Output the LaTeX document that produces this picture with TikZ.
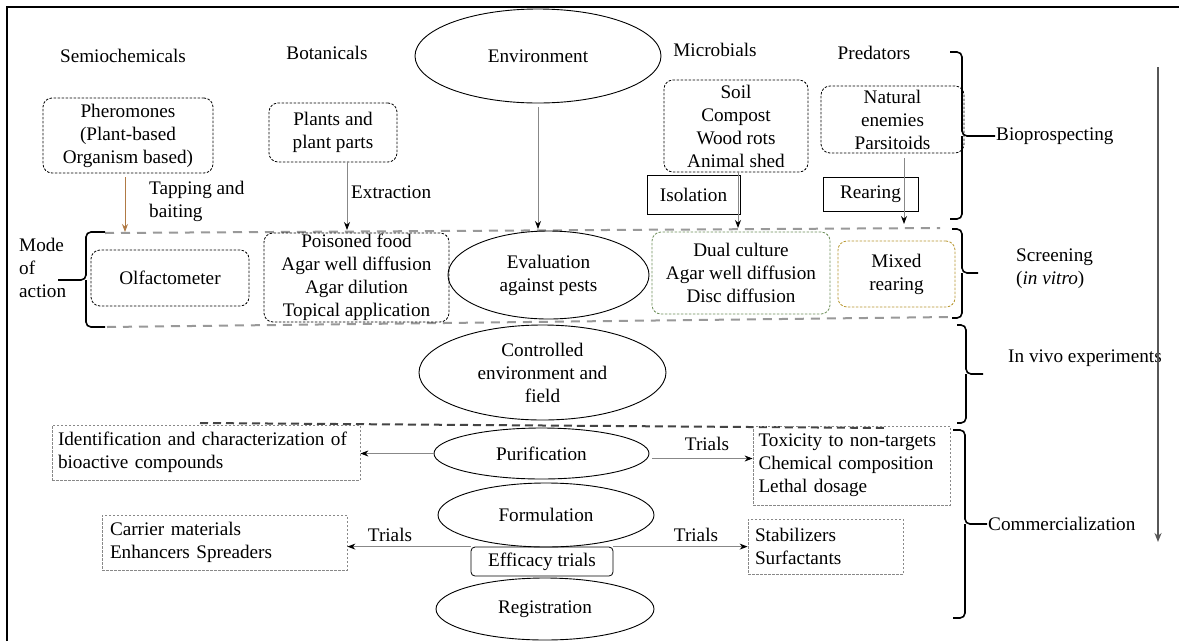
\documentclass[tikz,border=0pt]{standalone}
\usepackage{fontspec}
\setmainfont{Liberation Serif}
\usetikzlibrary{shapes.geometric,arrows.meta}
\definecolor{lgray}{HTML}{999999}
\definecolor{mgray}{HTML}{888888}
\definecolor{dgray}{HTML}{444444}
\definecolor{brownarr}{HTML}{B07A45}
\definecolor{greenbox}{HTML}{6E8F5A}
\definecolor{olivebox}{HTML}{B8962E}
\tikzset{
  txt/.style={font=\fontsize{19.2}{23}\selectfont, inner sep=0pt},
  dbox/.style={draw, line width=0.8pt, dash pattern=on 2.5pt off 1.5pt, rounded corners=9pt, align=center, inner sep=0pt, font=\fontsize{19.2}{23}\selectfont},
  gbox/.style={draw=mgray, line width=0.8pt, dash pattern=on 2.5pt off 1.5pt, align=left, inner sep=0pt, font=\fontsize{19.2}{23}\selectfont},
  ell/.style={ellipse, draw, line width=0.9pt, inner sep=0pt, align=center, font=\fontsize{19.2}{23}\selectfont},
  sbox/.style={draw, line width=0.8pt, inner sep=0pt, font=\fontsize{19.2}{23}\selectfont},
  arr/.style={draw=mgray, line width=0.9pt, -{Stealth[length=8pt,width=6pt,color=black]}},
  brace/.style={line width=1.6pt, rounded corners=5pt},
  scrline/.style={draw=lgray, line width=2pt, dash pattern=on 9pt off 7pt},
}
\begin{document}
\begin{tikzpicture}[x=1pt,y=-1pt]
\fill[white] (0,0) rectangle (1179,641);
\useasboundingbox (0,0) rectangle (1179,641);
% frame
\draw[line width=2pt] (7,641) -- (7,7) -- (1179,7);

% headers
\node[txt] (hsemi) at (123,56) {Semiochemicals};
\node[txt] (hbot) at (327,53) {Botanicals};
\node[ell, minimum width=246pt, minimum height=94pt] (env) at (538,56) {Environment};
\node[txt] (hmic) at (715,50) {Microbials};
\node[txt] (hpred) at (874,53) {Predators};

% source boxes
\node[dbox, minimum width=170pt, minimum height=75pt] (pher) at (128,135.5) {Pheromones\\(Plant-based\\Organism based)};
\node[dbox, minimum width=128pt, minimum height=59pt] (plants) at (333,132.5) {Plants and\\plant parts};
\node[dbox, minimum width=144pt, minimum height=92pt] (micro) at (736,126) {Soil\\Compost\\Wood rots\\Animal shed};
\node[dbox, minimum width=143pt, minimum height=67pt] (pred) at (892.5,119.5) {Natural\\enemies\\Parsitoids};
\node[sbox, minimum width=93pt, minimum height=39pt] (iso) at (693.5,194.5) {Isolation\hspace{10pt}};
\node[sbox, minimum width=95pt, minimum height=34pt] (rear) at (870.5,194) {Rearing\hspace{8pt}};

\node[txt, anchor=west, align=left] (tap) at (149,201.5) {Tapping and\\baiting};
\node[txt, anchor=west] (extr) at (351,192) {Extraction};

% screening band
\coordinate (s1) at (105,233);
\coordinate (s2) at (940,228);
\coordinate (s3) at (107,327);
\coordinate (s4) at (950,317);
\draw[scrline] (s1) -- (s2);
\draw[scrline] (s3) -- (s4);

\node[dbox, minimum width=158pt, minimum height=56pt] (olf) at (170,278) {Olfactometer};
\node[dbox, minimum width=185pt, minimum height=89pt] (pois) at (356.5,277.5) {Poisoned food\\Agar well diffusion\\Agar dilution\\Topical application};
\node[ell, minimum width=201pt, minimum height=88pt] (eval) at (548.5,275) {Evaluation\\against pests};
\node[dbox, draw=greenbox, minimum width=178pt, minimum height=82pt] (dual) at (741,273) {Dual culture\\Agar well diffusion\\Disc diffusion};
\node[dbox, draw=olivebox, minimum width=117pt, minimum height=66pt] (mixed) at (896.5,274) {Mixed\\rearing};

\node[txt, anchor=west, align=left] (mode) at (19,268) {Mode\\of\\action};

% arrows into screening
\coordinate (a1) at (125,232);
\coordinate (a2) at (347,230);
\coordinate (a3) at (538,229);
\coordinate (a4) at (738,228);
\coordinate (a5) at (904,224);
\draw[arr, draw=brownarr, -{Stealth[length=8pt,width=6pt,color=brownarr]}] ([yshift=-4pt]pher.south -| a1) -- (a1);
\draw[arr] (plants.south -| a2) -- (a2);
\draw[arr, shorten <=4pt] (env.south) -- (a3);
\draw[arr] (micro.south -| a4) -- (a4);
\draw[arr, shorten <=5pt] (pred.south -| a5) -- (a5);

% controlled environment
\node[ell, minimum width=247pt, minimum height=95pt] (ctrl) at (542.5,372.5) {Controlled\\environment and\\field};

\coordinate (d1) at (200,423);
\coordinate (d2) at (887,428);
\draw[draw=dgray, line width=2pt, dash pattern=on 8pt off 5pt] (d1) -- (d2);

% commercialization
\node[gbox, minimum width=308pt, minimum height=55pt, text width=296pt] (ident) at (206,452.5) {Identification and characterization of\\bioactive compounds};
\node[ell, minimum width=215pt, minimum height=51pt] (purif) at (541.5,453.5) {Purification};
\node[gbox, minimum width=197pt, minimum height=79pt, text width=186pt] (tox) at (851.5,465.5) {Toxicity to non-targets\\Chemical composition\\Lethal dosage};
\node[ell, minimum width=216pt, minimum height=64pt] (form) at (546,515) {Formulation};
\node[sbox, rounded corners=4pt, minimum width=142pt, minimum height=29pt] (eff) at (542,561.5) {Efficacy trials};
\node[gbox, minimum width=245pt, minimum height=55pt, text width=229pt] (carrier) at (224.5,542.5) {Carrier materials\\Enhancers Spreaders};
\node[gbox, minimum width=155pt, minimum height=55pt, text width=141pt] (stab) at (825.5,546.5) {Stabilizers\\Surfactants};
\node[ell, minimum width=218pt, minimum height=62pt] (reg) at (545,609) {Registration};

\draw[arr] (purif.west) -- (purif.west -| ident.east);
\draw[arr] ([yshift=-5pt, xshift=3pt]purif.east) -- ([yshift=-5pt]purif.east -| tox.west);
\draw[arr] (eff.north west) -- (eff.north west -| carrier.east);
\draw[arr] (eff.north east) -- (eff.north east -| stab.west);

\node[txt] (tr1) at (707,444) {Trials};
\node[txt] (tr2) at (390,535) {Trials};
\node[txt] (tr3) at (696,535) {Trials};

% braces
\draw[brace] (950,52) -- (962,52) -- (962,136) -- (995,136);
\draw[brace] (962,136) -- (962,219) -- (950,219);
\node[txt, anchor=west] (bio) at (996,136) {Bioprospecting};

\draw[brace] (105,232) -- (86,232) -- (86,280) -- (58,280);
\draw[brace] (86,280) -- (86,327) -- (105,327);

\draw[brace] (952,229) -- (962,229) -- (962,273) -- (978,273);
\draw[brace] (962,273) -- (962,318) -- (952,318);
\node[txt, anchor=west, align=left] (scr) at (1016,268.5) {Screening\\(\textit{in vitro})};

\draw[brace] (957,325) -- (966,325) -- (966,374) -- (983,374);
\draw[brace] (966,374) -- (966,423) -- (957,423);
\node[txt, anchor=west] (invivo) at (1008,358) {In vivo experiments};

\draw[brace] (953,430) -- (965,430) -- (965,524) -- (987,524);
\draw[brace] (965,524) -- (965,618) -- (953,618);
\node[txt, anchor=west] (comm) at (988,524) {Commercialization};

% big arrow
\coordinate (v1) at (1158,67);
\coordinate (v2) at (1158,542);
\draw[draw=dgray!90, line width=2pt, -{Stealth[length=9pt,width=7pt]}] (v1) -- (v2);
\end{tikzpicture}
\end{document}
